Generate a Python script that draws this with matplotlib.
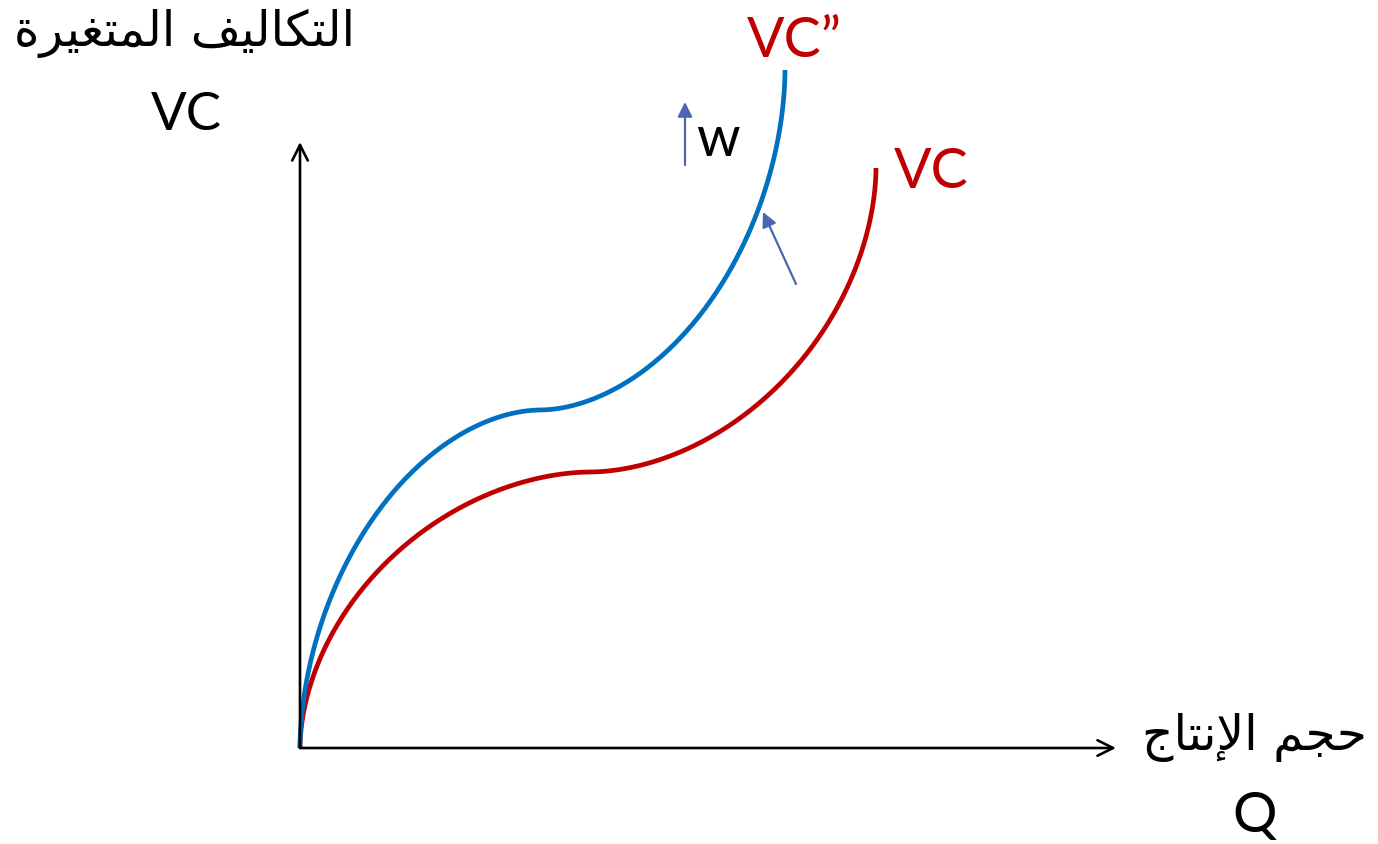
import matplotlib
matplotlib.use('Agg')
import matplotlib.pyplot as plt
import numpy as np

plt.rcParams['font.family'] = ['Lato', 'DejaVu Sans']

# key points of the two curves (Q, VC): start, inflection, end
vc_points = [(0.0, 0.0), (2.90, 2.76), (5.76, 5.80)]
vc2_points = [(0.0, 0.0), (2.40, 3.38), (4.85, 6.78)]

y_label = "التكاليف المتغيرة"
x_label = "حجم الإنتاج"

RED = "#C00000"
BLUE = "#0070C0"
ARROW_BLUE = "#4A66B0"

# Arabic contextual forms: (isolated, final, initial, medial)
FORMS = {
    'ا': ('\uFE8D', '\uFE8E'),
    'إ': ('\uFE87', '\uFE88'),
    'ر': ('\uFEAD', '\uFEAE'),
    'ة': ('\uFE93', '\uFE94'),
    'ل': ('\uFEDD', '\uFEDE', '\uFEDF', '\uFEE0'),
    'ت': ('\uFE95', '\uFE96', '\uFE97', '\uFE98'),
    'ك': ('\uFED9', '\uFEDA', '\uFEDB', '\uFEDC'),
    'ي': ('\uFEF1', '\uFEF2', '\uFEF3', '\uFEF4'),
    'ف': ('\uFED1', '\uFED2', '\uFED3', '\uFED4'),
    'م': ('\uFEE1', '\uFEE2', '\uFEE3', '\uFEE4'),
    'غ': ('\uFECD', '\uFECE', '\uFECF', '\uFED0'),
    'ح': ('\uFEA1', '\uFEA2', '\uFEA3', '\uFEA4'),
    'ج': ('\uFE9D', '\uFE9E', '\uFE9F', '\uFEA0'),
    'ن': ('\uFEE5', '\uFEE6', '\uFEE7', '\uFEE8'),
}
LAM_ALEF = {'ا': ('\uFEFB', '\uFEFC'), 'إ': ('\uFEF9', '\uFEFA')}


def shape(text):
    # build units, merging lam + alef into ligature
    units = []
    i = 0
    while i < len(text):
        c = text[i]
        if c == 'ل' and i + 1 < len(text) and text[i + 1] in LAM_ALEF:
            units.append(LAM_ALEF[text[i + 1]])
            i += 2
            continue
        units.append(FORMS.get(c, c))
        i += 1
    out = []
    for k, u in enumerate(units):
        if isinstance(u, str):
            out.append(u)
            continue
        prev = units[k - 1] if k > 0 else None
        nxt = units[k + 1] if k + 1 < len(units) else None
        jp = isinstance(prev, tuple) and len(prev) == 4
        jn = len(u) == 4 and isinstance(nxt, tuple)
        if jp and jn:
            out.append(u[3])
        elif jp:
            out.append(u[1])
        elif jn:
            out.append(u[2])
        else:
            out.append(u[0])
    return ''.join(reversed(out))


def s_curve(points, n=200, p=1.85):
    # two quarter (super)ellipse arcs: vertical at start, flat at inflection, vertical at end
    (x0, y0), (x1, y1), (x2, y2) = points
    t = np.linspace(0, np.pi / 2, n)
    c = np.cos(t) ** (2 / p)
    s = np.sin(t) ** (2 / p)
    xa = x1 - (x1 - x0) * c
    ya = y0 + (y1 - y0) * s
    xb = x1 + (x2 - x1) * s
    yb = y2 - (y2 - y1) * c
    return np.concatenate([xa, xb[1:]]), np.concatenate([ya, yb[1:]])


fig = plt.figure(figsize=(13.78, 8.44), dpi=100)
ax = fig.add_axes([0, 0, 1, 1])
ax.set_xlim(-3.00, 10.78)
ax.set_ylim(-0.96, 7.48)
ax.axis('off')

# axes with open arrow heads
ax.annotate('', xy=(8.16, 0), xytext=(0, 0),
            arrowprops=dict(arrowstyle='->', lw=1.9, color='black', mutation_scale=28, shrinkA=0, shrinkB=0))
ax.annotate('', xy=(0, 6.06), xytext=(0, 0),
            arrowprops=dict(arrowstyle='->', lw=1.9, color='black', mutation_scale=28, shrinkA=0, shrinkB=0))

x, y = s_curve(vc_points)
ax.plot(x, y, color=RED, lw=3.4, solid_capstyle='butt')
x, y = s_curve(vc2_points)
ax.plot(x, y, color=BLUE, lw=3.4, solid_capstyle='butt')

# shift arrows
ax.annotate('', xy=(3.85, 6.46), xytext=(3.85, 5.83),
            arrowprops=dict(arrowstyle='-|>', lw=1.6, color=ARROW_BLUE, mutation_scale=22, shrinkA=0, shrinkB=0))
ax.annotate('', xy=(4.63, 5.36), xytext=(4.96, 4.64),
            arrowprops=dict(arrowstyle='-|>', lw=1.6, color=ARROW_BLUE, mutation_scale=22, shrinkA=0, shrinkB=0))

# labels
ax.text(-1.16, 7.15, shape(y_label), fontsize=35, ha='center', va='center', family='DejaVu Sans')
ax.text(-1.14, 6.33, "VC", fontsize=38, ha='center', va='center')
ax.text(4.94, 7.07, "VC\u201d", fontsize=40, ha='center', va='center', color=RED)
ax.text(6.31, 5.76, "VC", fontsize=40, ha='center', va='center', color=RED)
ax.text(3.96, 6.08, "w", fontsize=40, ha='left', va='center')
ax.text(9.55, 0.10, shape(x_label), fontsize=35, ha='center', va='center', family='DejaVu Sans')
ax.text(9.55, -0.68, "Q", fontsize=40, ha='center', va='center')

fig.savefig('out.png', dpi=100)
